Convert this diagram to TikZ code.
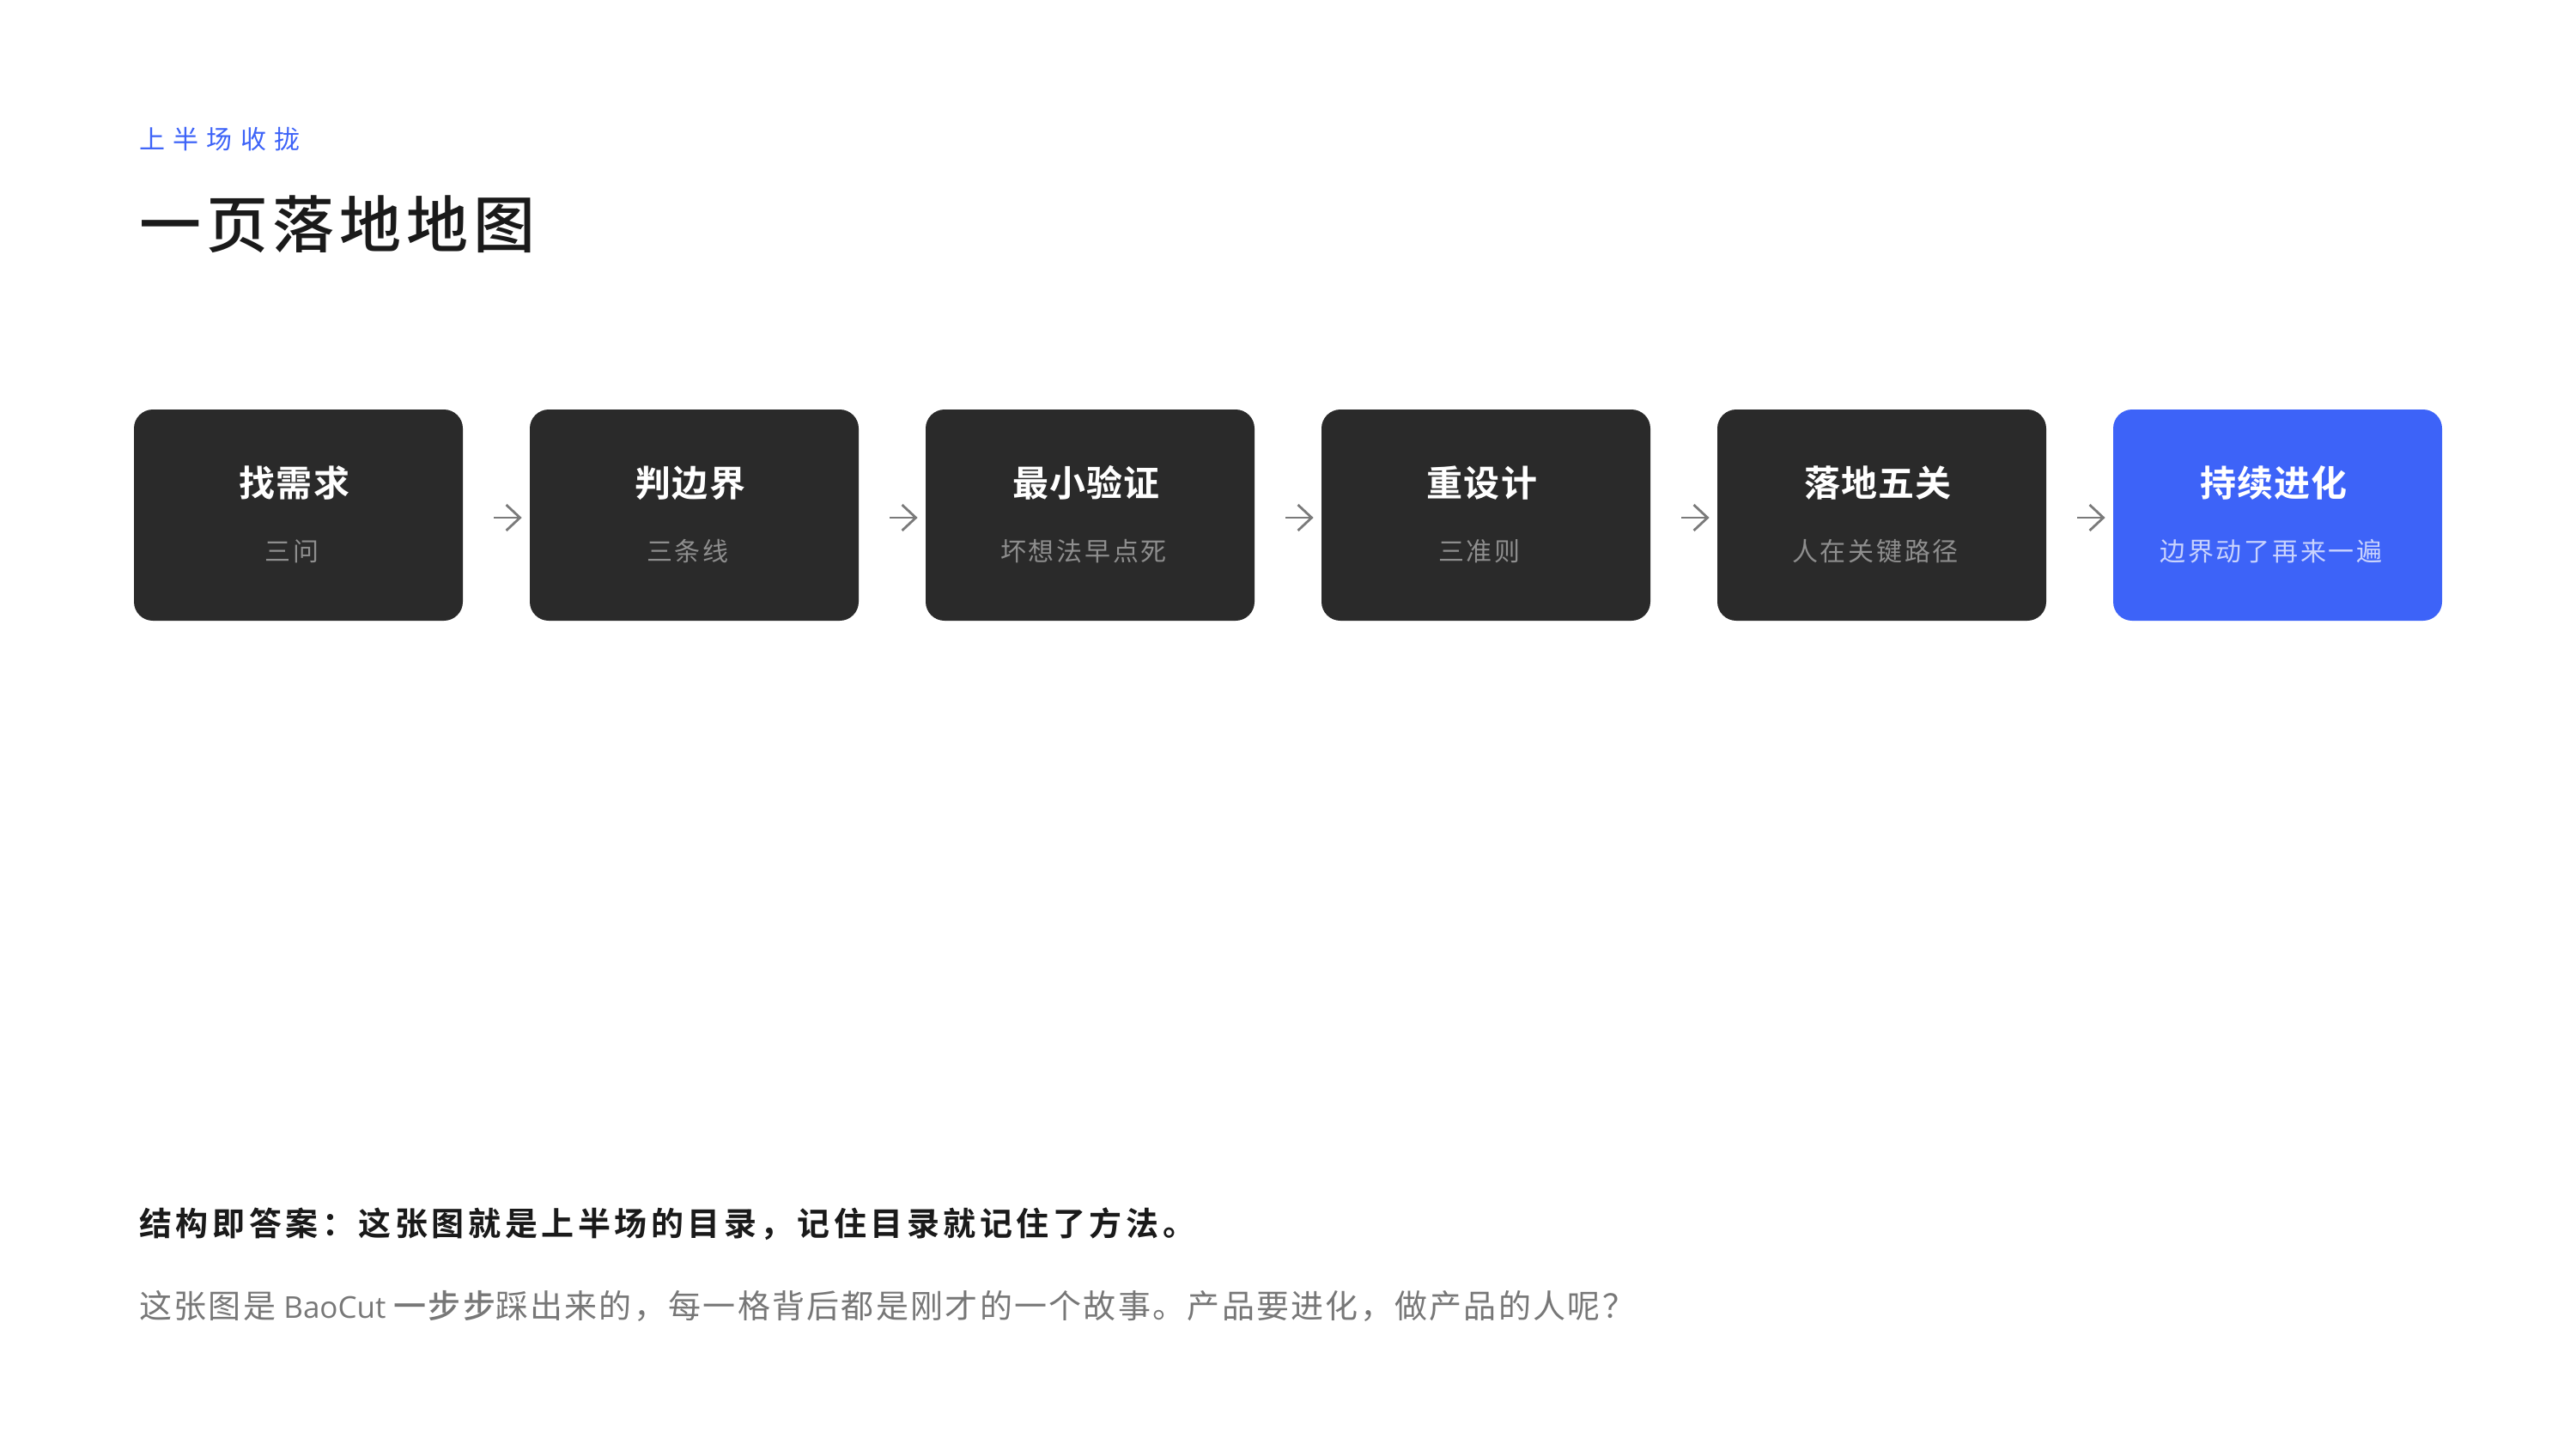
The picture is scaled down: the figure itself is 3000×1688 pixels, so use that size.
\documentclass[tikz,border=0pt]{standalone}
\usepackage{fontspec}
\setmainfont{Noto Sans CJK SC}
\newfontfamily\latinfont{Open Sans}
\newfontfamily\kickerfont[LetterSpace=31]{Noto Sans CJK SC}
\newfontfamily\headfont[LetterSpace=8,BoldFont={Noto Sans CJK SC Medium}]{Noto Sans CJK SC}
\newfontfamily\cardfont[LetterSpace=3,BoldFont={Noto Sans CJK SC Bold}]{Noto Sans CJK SC}
\newfontfamily\notefont[LetterSpace=9]{Noto Sans CJK SC}
\newfontfamily\bodyfont[LetterSpace=12,BoldFont={Noto Sans CJK SC Bold}]{Noto Sans CJK SC}
\newfontfamily\storyfont[LetterSpace=6,BoldFont={Noto Sans CJK SC Medium}]{Noto Sans CJK SC}
\usetikzlibrary{arrows.meta}
\definecolor{brandblue}{HTML}{3D63F8}
\definecolor{carddark}{HTML}{2A2A2A}
\definecolor{notegray}{HTML}{8E8E8E}
\definecolor{noteblue}{HTML}{C9D3FD}
\definecolor{inkblack}{HTML}{1A1A1A}
\definecolor{bodygray}{HTML}{777777}
\definecolor{arrowgray}{HTML}{7A7A7A}

\begin{document}
\begin{tikzpicture}[x=0.5pt,y=-0.5pt,
  card/.style={fill=carddark,rounded corners=11pt,minimum width=191.5pt,minimum height=123pt,inner sep=0pt},
  cardtitle/.style={anchor=base,inner sep=0pt,text=white,font=\cardfont\bfseries\fontsize{21pt}{25pt}\selectfont},
  cardnote/.style={anchor=base,inner sep=0pt,text=notegray,font=\notefont\fontsize{15pt}{18pt}\selectfont},
  flowarrow/.style={draw=arrowgray,line width=1.4pt,-{Straight Barb[length=8pt,width=15pt,line width=1.4pt]}},
  textline/.style={anchor=base west,inner sep=0pt}]
\useasboundingbox[fill=white] (0,0) rectangle (3000,1688);

\node[textline,text=brandblue,font=\kickerfont\fontsize{15pt}{18pt}\selectfont] (kicker) at (162,173) {上半场收拢};
\node[textline,text=inkblack,font=\headfont\bfseries\fontsize{36pt}{42pt}\selectfont] (heading) at (162,288) {一页落地地图};

\node[card] (b1) at (347.5,600) {};
\node[card] (b2) at (808.5,600) {};
\node[card] (b3) at (1269.5,600) {};
\node[card] (b4) at (1730.5,600) {};
\node[card] (b5) at (2191.5,600) {};
\node[card,fill=brandblue] (b6) at (2652.5,600) {};

\node[cardtitle] (t1) at (343,578) {找需求};
\node[cardtitle] (t2) at (804,578) {判边界};
\node[cardtitle] (t3) at (1265,578) {最小验证};
\node[cardtitle] (t4) at (1726,578) {重设计};
\node[cardtitle] (t5) at (2187,578) {落地五关};
\node[cardtitle] (t6) at (2648,578) {持续进化};

\node[cardnote] (s1) at (340,653) {三问};
\node[cardnote] (s2) at (801,653) {三条线};
\node[cardnote] (s3) at (1262,653) {坏想法早点死};
\node[cardnote] (s4) at (1723,653) {三准则};
\node[cardnote] (s5) at (2184,653) {人在关键路径};
\node[cardnote,text=noteblue] (s6) at (2645,653) {边界动了再来一遍};

\draw[flowarrow] ([xshift=18pt,yshift=-1.5pt]b1.east) -- ([xshift=-4.5pt,yshift=-1.5pt]b2.west);
\draw[flowarrow] ([xshift=18pt,yshift=-1.5pt]b2.east) -- ([xshift=-4.5pt,yshift=-1.5pt]b3.west);
\draw[flowarrow] ([xshift=18pt,yshift=-1.5pt]b3.east) -- ([xshift=-4.5pt,yshift=-1.5pt]b4.west);
\draw[flowarrow] ([xshift=18pt,yshift=-1.5pt]b4.east) -- ([xshift=-4.5pt,yshift=-1.5pt]b5.west);
\draw[flowarrow] ([xshift=18pt,yshift=-1.5pt]b5.east) -- ([xshift=-4.5pt,yshift=-1.5pt]b6.west);

\node[textline,text=inkblack,font=\bodyfont\bfseries\fontsize{19pt}{23pt}\selectfont] (answer) at (162,1439) {结构即答案：这张图就是上半场的目录，记住目录就记住了方法。};
\node[textline,text=bodygray,font=\storyfont\fontsize{19pt}{23pt}\selectfont] (story) at (162,1535) {这张图是{\latinfont\fontsize{17.5pt}{21pt}\selectfont\ BaoCut\ }{\bfseries 一步步}踩出来的，每一格背后都是刚才的一个故事。产品要进化，做产品的人呢？};
\end{tikzpicture}
\end{document}
